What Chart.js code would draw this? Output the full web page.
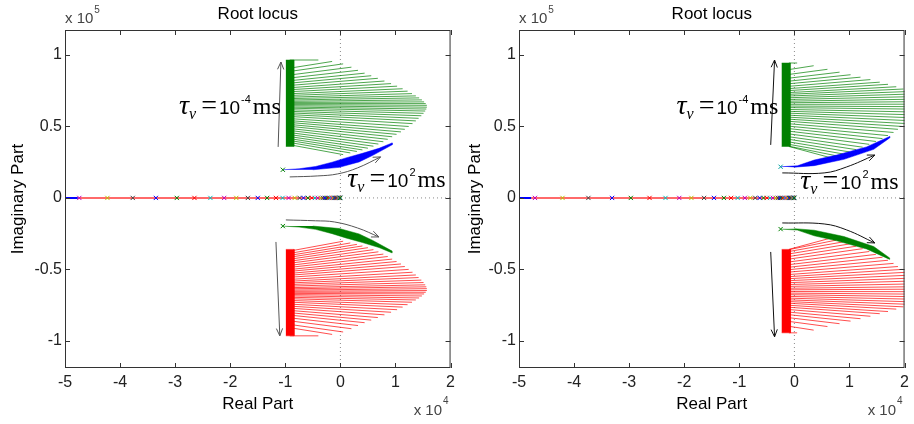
<!DOCTYPE html>
<html lang="en">
<head>
<meta charset="UTF-8" />
<title>Root locus</title>
<style>
  html, body { margin: 0; padding: 0; background: #fff; }
  body { width: 914px; height: 424px; position: relative; overflow: hidden; }
  .pane { position: absolute; top: 0; height: 424px; }
  #paneA { left: 0; width: 460px; }
  #paneB { left: 457px; width: 457px; }
</style>
</head>
<body>
<div class="pane" id="paneA"><canvas id="chartA" width="460" height="424"></canvas></div>
<div class="pane" id="paneB"><canvas id="chartB" width="457" height="424"></canvas></div>

<script src="https://cdn.jsdelivr.net/npm/chart.js@4.4.1/dist/chart.umd.min.js"></script>
<script>
  // x in units of 1e4, y in units of 1e5
  const xLimits = [-5, 2];
  const yLimits = [-1.19, 1.175];
  const xTicks = [-5, -4, -3, -2, -1, 0, 1, 2];
  const yTicks = [-1, -0.5, 0, 0.5, 1];

  // ---- left plot ----
  const polesA = [-4.74, -4.23, -3.77, -3.35, -2.97, -2.65, -2.36, -2.11, -1.89, -1.68, -1.50, -1.33, -1.17, -1.05,
    -0.94, -0.83, -0.74, -0.67, -0.59, -0.52, -0.46, -0.41, -0.36, -0.32, -0.28, -0.24, -0.21, -0.18, -0.15,
    -0.13, -0.11, -0.09, -0.07, -0.055, -0.04, -0.03, -0.02, -0.012, -0.006, -0.002];
  const realBlueA = [-5, -4.77];
  const realRedA = [-4.77, -0.002];
  // upper-half branches: start on the band (x = fanX0), end on the outer envelope
  const fanX0A = -0.92;
  const fanY0A = [0.965, 0.908, 0.885, 0.860, 0.839, 0.820, 0.803, 0.787, 0.771, 0.757, 0.743, 0.729, 0.717, 0.705,
    0.695, 0.685, 0.676, 0.668, 0.660, 0.653, 0.645, 0.636, 0.628, 0.617, 0.606, 0.595, 0.583, 0.570, 0.555, 0.541,
    0.528, 0.514, 0.501, 0.486, 0.472, 0.457, 0.443, 0.429, 0.415, 0.402, 0.388, 0.372];
  const fanX1A = [-0.40, -0.15, 0.05, 0.20, 0.32, 0.44, 0.56, 0.68, 0.80, 0.92, 1.03, 1.13, 1.22, 1.30,
    1.37, 1.43, 1.48, 1.52, 1.55, 1.57, 1.57, 1.56, 1.54, 1.51, 1.47, 1.42, 1.37, 1.31, 1.24, 1.17,
    1.10, 1.02, 0.94, 0.86, 0.78, 0.69, 0.60, 0.50, 0.40, 0.30, 0.18, 0.05];
  const fanY1A = [0.965, 0.955, 0.938, 0.915, 0.893, 0.873, 0.855, 0.837, 0.818, 0.800, 0.782, 0.764, 0.747, 0.730,
    0.714, 0.700, 0.686, 0.672, 0.660, 0.648, 0.635, 0.622, 0.608, 0.592, 0.575, 0.557, 0.539, 0.520, 0.500, 0.480,
    0.462, 0.445, 0.428, 0.410, 0.393, 0.377, 0.362, 0.348, 0.336, 0.325, 0.315, 0.303];
  const bandXA = [-0.99, -0.84, -0.84, -0.99];
  const bandYA = [0.36, 0.36, 0.965, 0.965];
  const slowXA = [-1.045, -0.75, -0.45, -0.15, 0.10, 0.40, 0.70, 0.94, 0.94, 0.79, 0.58, 0.34, -0.02, -0.50];
  const slowYA = [0.197, 0.204, 0.220, 0.250, 0.280, 0.312, 0.347, 0.385, 0.372, 0.340, 0.296, 0.252, 0.214, 0.197];
  const startMarkA = [-1.045, 0.197];
  const arrowUpXA = [-1.13, -1.08], arrowUpYA = [0.357, 0.951];
  const arrowDownXA = [-1.17, -1.10], arrowDownYA = [-0.308, -0.965];
  const curveUpXA = [-0.92, -0.41, -0.05, 0.31, 0.73], curveUpYA = [0.147, 0.154, 0.168, 0.210, 0.287];
  const curveDownXA = [-0.99, -0.45, -0.11, 0.31, 0.70], curveDownYA = [-0.154, -0.160, -0.168, -0.210, -0.273];
  const tauLabelsA = [{ x: -2.93, y: 0.636, exp: '-4' }, { x: 0.126, y: 0.126, exp: '2' }];

  // ---- right plot ----
  const polesB = [-4.71, -4.21, -3.74, -3.31, -2.97, -2.63, -2.34, -2.09, -1.87, -1.64, -1.46, -1.28, -1.15, -1.03,
    -0.90, -0.80, -0.71, -0.63, -0.56, -0.50, -0.44, -0.39, -0.34, -0.30, -0.26, -0.23, -0.20, -0.17, -0.145,
    -0.12, -0.10, -0.08, -0.065, -0.05, -0.038, -0.028, -0.018, -0.01, -0.005, -0.002];
  const realBlueB = [-5, -4.78];
  const realRedB = [-4.78, -0.002];
  const fanX0B = -0.10;
  const fanY0B = [0.944, 0.898, 0.864, 0.838, 0.817, 0.799, 0.781, 0.765, 0.751, 0.737, 0.725, 0.713, 0.701, 0.689,
    0.677, 0.666, 0.655, 0.643, 0.632, 0.619, 0.606, 0.593, 0.579, 0.565, 0.551, 0.536, 0.519, 0.502, 0.485, 0.467,
    0.448, 0.428, 0.410, 0.392, 0.375, 0.362, 0.360];
  const fanX1B = [0.05, 0.35, 0.60, 0.82, 1.02, 1.20, 1.38, 1.55, 1.70, 1.85, 1.98, 2.10, 2.20, 2.28,
    2.34, 2.38, 2.40, 2.40, 2.38, 2.34, 2.28, 2.20, 2.12, 2.04, 1.96, 1.88, 1.80, 1.70, 1.60, 1.48,
    1.36, 1.24, 1.12, 1.00, 0.88, 0.76, 0.64];
  const fanY1B = [0.944, 0.925, 0.900, 0.880, 0.862, 0.845, 0.828, 0.810, 0.795, 0.778, 0.762, 0.745, 0.728, 0.710,
    0.692, 0.674, 0.656, 0.638, 0.620, 0.600, 0.580, 0.560, 0.540, 0.520, 0.500, 0.480, 0.458, 0.436, 0.415, 0.395,
    0.375, 0.355, 0.338, 0.322, 0.308, 0.295, 0.283];
  const bandXB = [-0.23, -0.07, -0.07, -0.23];
  const bandYB = [0.36, 0.36, 0.944, 0.944];
  const slowXB = [-0.25, 0.054, 0.36, 0.77, 1.31, 1.73, 1.73, 1.44, 0.90, 0.36, 0.0];
  const slowYB = [0.218, 0.225, 0.265, 0.300, 0.357, 0.430, 0.420, 0.340, 0.270, 0.226, 0.215];
  const startMarkB = [-0.25, 0.218];
  const arrowUpXB = [-0.43, -0.36], arrowUpYB = [0.371, 0.965];
  const arrowDownXB = [-0.43, -0.36], arrowDownYB = [-0.378, -0.972];
  const curveUpXB = [-0.22, 0.54, 0.95, 1.46], curveUpYB = [0.175, 0.175, 0.217, 0.300];
  const curveDownXB = [-0.22, 0.54, 0.95, 1.46], curveDownYB = [-0.175, -0.182, -0.224, -0.315];
  const tauLabelsB = [{ x: -2.14, y: 0.636, exp: '-4' }, { x: 0.108, y: 0.112, exp: '2' }];

  const SANS = '"Liberation Sans", Arial, Helvetica, sans-serif';
  const SERIF = '"Liberation Serif", "Times New Roman", serif';
  const markCycle = ['#bf00bf', '#bfbf00', '#404040', '#0000ff', '#008000', '#ff0000', '#00bfbf'];

  Chart.defaults.font.family = SANS;

  function pts(xs, ys, s) {
    return xs.map((x, i) => ({ x: x, y: s * ys[i] }));
  }

  function line(data, color, width, order, extra) {
    return Object.assign({
      data: data, showLine: true, borderColor: color, borderWidth: width,
      pointRadius: 0, fill: false, tension: 0, order: order
    }, extra || {});
  }

  function buildDatasets(p) {
    const ds = [];
    // dotted zero lines
    ds.push(line([{ x: 0, y: yLimits[0] }, { x: 0, y: yLimits[1] }], '#8a8a8a', 1, 60, { borderDash: [1, 3] }));
    ds.push(line([{ x: xLimits[0], y: 0 }, { x: xLimits[1], y: 0 }], '#8a8a8a', 1, 60, { borderDash: [1, 3] }));

    // fast branches: green above, red below (conjugates)
    [[1, '#008000'], [-1, '#ff0000']].forEach(([s, c]) => {
      p.fanY0.forEach((y0, i) => {
        ds.push(line([{ x: p.fanX0, y: s * y0 }, { x: p.fanX1[i], y: s * p.fanY1[i] }], c, 0.7, 50));
      });
      ds.push(line(pts(p.bandX, p.bandY, s), c, 0.5, 40, { fill: 'shape', backgroundColor: c }));
    });

    // slow branch: blue above, green below
    [[1, '#0000ff'], [-1, '#008000']].forEach(([s, c]) => {
      ds.push(line(pts(p.slowX, p.slowY, s), c, 0.5, 30, { fill: 'shape', backgroundColor: c }));
    });

    // real axis
    ds.push(line(p.realBlue.map(x => ({ x: x, y: 0 })), '#0000ff', 2, 20));
    ds.push(line(p.realRed.map(x => ({ x: x, y: 0 })), '#ff6a6a', 2, 20));

    // open-loop poles
    ds.push({
      data: p.poles.map(x => ({ x: x, y: 0 })), showLine: false, order: 10,
      pointStyle: 'crossRot', pointRadius: 3, pointBorderWidth: 1,
      pointBorderColor: p.poles.map((x, i) => markCycle[i % markCycle.length])
    });
    ds.push({
      data: [{ x: p.startMark[0], y: p.startMark[1] }, { x: p.startMark[0], y: -p.startMark[1] }],
      showLine: false, order: 10, pointStyle: 'crossRot', pointRadius: 3, pointBorderWidth: 1,
      pointBorderColor: p.startColors
    });

    // arrows
    ds.push(line(pts(p.arrowUpX, p.arrowUpY, 1), p.arrowColor, 1, 5, { arrowHead: true }));
    ds.push(line(pts(p.arrowDownX, p.arrowDownY, 1), p.arrowColor, 1, 5, { arrowHead: true }));
    ds.push(line(pts(p.curveUpX, p.curveUpY, 1), p.arrowColor, 1, 5, { arrowHead: true, tension: 0.4 }));
    ds.push(line(pts(p.curveDownX, p.curveDownY, 1), p.arrowColor, 1, 5, { arrowHead: true, tension: 0.4 }));
    return ds;
  }

  // "tau_v = 10^exp ms" drawn piece by piece; x = left edge, y = middle (pixels)
  function drawTau(ctx, x, y, exp) {
    const base = y + 7;
    let cx = x;
    ctx.fillStyle = '#000';
    ctx.textAlign = 'left';
    ctx.textBaseline = 'alphabetic';
    ctx.font = 'italic 28px ' + SERIF;
    ctx.fillText('τ', cx, base); cx += ctx.measureText('τ').width;
    ctx.font = 'italic 16px ' + SERIF;
    ctx.fillText('v', cx, base + 5); cx += ctx.measureText('v').width + 5;
    ctx.font = '28px ' + SERIF;
    ctx.fillText('=', cx, base); cx += ctx.measureText('=').width + 2;
    ctx.font = '19px ' + SANS;
    ctx.fillText('10', cx, base); cx += ctx.measureText('10').width + 1;
    ctx.font = '11px ' + SANS;
    ctx.fillText(exp, cx, base - 11); cx += ctx.measureText(exp).width + 2;
    ctx.font = '24px ' + SERIF;
    ctx.fillText('ms', cx, base);
  }

  function decor(p) {
    return {
      id: 'decor',
      afterDatasetsDraw(chart) {
        const ctx = chart.ctx, ca = chart.chartArea, sx = chart.scales.x, sy = chart.scales.y;
        ctx.save();

        // arrow heads
        chart.data.datasets.forEach((d, i) => {
          if (!d.arrowHead) return;
          const el = chart.getDatasetMeta(i).data;
          const a = el[el.length - 1], b = el[el.length - 2];
          let bx = b.x, by = b.y;
          if (d.tension && a.cp1x !== undefined && Math.hypot(a.x - a.cp1x, a.y - a.cp1y) > 1) {
            bx = a.cp1x; by = a.cp1y;
          }
          const ang = Math.atan2(a.y - by, a.x - bx);
          ctx.strokeStyle = d.borderColor;
          ctx.lineWidth = 1;
          ctx.beginPath();
          ctx.moveTo(a.x - 8 * Math.cos(ang - 0.4), a.y - 8 * Math.sin(ang - 0.4));
          ctx.lineTo(a.x, a.y);
          ctx.lineTo(a.x - 8 * Math.cos(ang + 0.4), a.y - 8 * Math.sin(ang + 0.4));
          ctx.stroke();
        });

        // axes box with inward ticks
        ctx.strokeStyle = '#333';
        ctx.lineWidth = 1;
        ctx.strokeRect(ca.left + 0.5, ca.top + 0.5, ca.width - 1, ca.height - 1);
        ctx.beginPath();
        xTicks.forEach(v => {
          const px = Math.round(sx.getPixelForValue(v)) + 0.5;
          ctx.moveTo(px, ca.bottom); ctx.lineTo(px, ca.bottom - 5);
          ctx.moveTo(px, ca.top); ctx.lineTo(px, ca.top + 5);
        });
        yTicks.forEach(v => {
          const py = Math.round(sy.getPixelForValue(v)) + 0.5;
          ctx.moveTo(ca.left, py); ctx.lineTo(ca.left + 5, py);
          ctx.moveTo(ca.right, py); ctx.lineTo(ca.right - 5, py);
        });
        ctx.stroke();

        // exponent labels
        ctx.fillStyle = '#444';
        ctx.textBaseline = 'alphabetic';
        ctx.textAlign = 'left';
        ctx.font = '15px ' + SANS;
        ctx.fillText('x 10', ca.left, ca.top - 7);
        let w = ctx.measureText('x 10').width;
        ctx.font = '10px ' + SANS;
        ctx.fillText('5', ca.left + w + 1, ca.top - 17);
        const w4 = ctx.measureText('4').width;
        ctx.fillText('4', ca.right - 2 - w4, ca.bottom + 36);
        ctx.font = '15px ' + SANS;
        w = ctx.measureText('x 10').width;
        ctx.fillText('x 10', ca.right - 3 - w4 - w, ca.bottom + 47);

        // tau annotations
        p.labels.forEach(l => drawTau(ctx, sx.getPixelForValue(l.x), sy.getPixelForValue(l.y), l.exp));
        ctx.restore();
      }
    };
  }

  function makeChart(id, yAxisWidth, p) {
    return new Chart(document.getElementById(id), {
      type: 'scatter',
      data: { datasets: buildDatasets(p) },
      options: {
        responsive: false,
        animation: false,
        events: [],
        layout: { padding: { left: 0, right: 6, top: 0, bottom: 0 } },
        plugins: {
          legend: { display: false },
          tooltip: { enabled: false },
          title: {
            display: true, text: 'Root locus', fullSize: false, color: '#000',
            font: { size: 17, weight: 'normal' }, padding: { top: 4, bottom: 5.6 }
          }
        },
        scales: {
          x: {
            type: 'linear', min: xLimits[0], max: xLimits[1],
            afterBuildTicks: s => { s.ticks = xTicks.map(v => ({ value: v })); },
            grid: { display: false, drawTicks: false }, border: { display: false },
            ticks: { color: '#222', font: { size: 16 }, padding: 5, maxRotation: 0, autoSkip: false, callback: v => String(v) },
            title: { display: true, text: 'Real Part', color: '#000', font: { size: 17 }, padding: { top: 0, bottom: 9 } },
            afterFit: s => { s.height = 56; }
          },
          y: {
            type: 'linear', min: yLimits[0], max: yLimits[1],
            afterBuildTicks: s => { s.ticks = yTicks.map(v => ({ value: v })); },
            grid: { display: false, drawTicks: false }, border: { display: false },
            ticks: { color: '#222', font: { size: 16 }, padding: 3, autoSkip: false, callback: v => String(v) },
            title: { display: true, text: 'Imaginary Part', color: '#000', font: { size: 17 }, padding: { top: 8, bottom: 0 } },
            afterFit: s => { s.width = yAxisWidth; }
          }
        }
      },
      plugins: [decor(p)]
    });
  }

  makeChart('chartA', 65, {
    poles: polesA, realBlue: realBlueA, realRed: realRedA,
    fanX0: fanX0A, fanY0: fanY0A, fanX1: fanX1A, fanY1: fanY1A,
    bandX: bandXA, bandY: bandYA, slowX: slowXA, slowY: slowYA,
    startMark: startMarkA, startColors: ['#008000', '#008000'],
    arrowUpX: arrowUpXA, arrowUpY: arrowUpYA, arrowDownX: arrowDownXA, arrowDownY: arrowDownYA,
    curveUpX: curveUpXA, curveUpY: curveUpYA, curveDownX: curveDownXA, curveDownY: curveDownYA,
    arrowColor: '#555', labels: tauLabelsA
  });

  makeChart('chartB', 62, {
    poles: polesB, realBlue: realBlueB, realRed: realRedB,
    fanX0: fanX0B, fanY0: fanY0B, fanX1: fanX1B, fanY1: fanY1B,
    bandX: bandXB, bandY: bandYB, slowX: slowXB, slowY: slowYB,
    startMark: startMarkB, startColors: ['#00a0a0', '#008000'],
    arrowUpX: arrowUpXB, arrowUpY: arrowUpYB, arrowDownX: arrowDownXB, arrowDownY: arrowDownYB,
    curveUpX: curveUpXB, curveUpY: curveUpYB, curveDownX: curveDownXB, curveDownY: curveDownYB,
    arrowColor: '#111', labels: tauLabelsB
  });
</script>
</body>
</html>
